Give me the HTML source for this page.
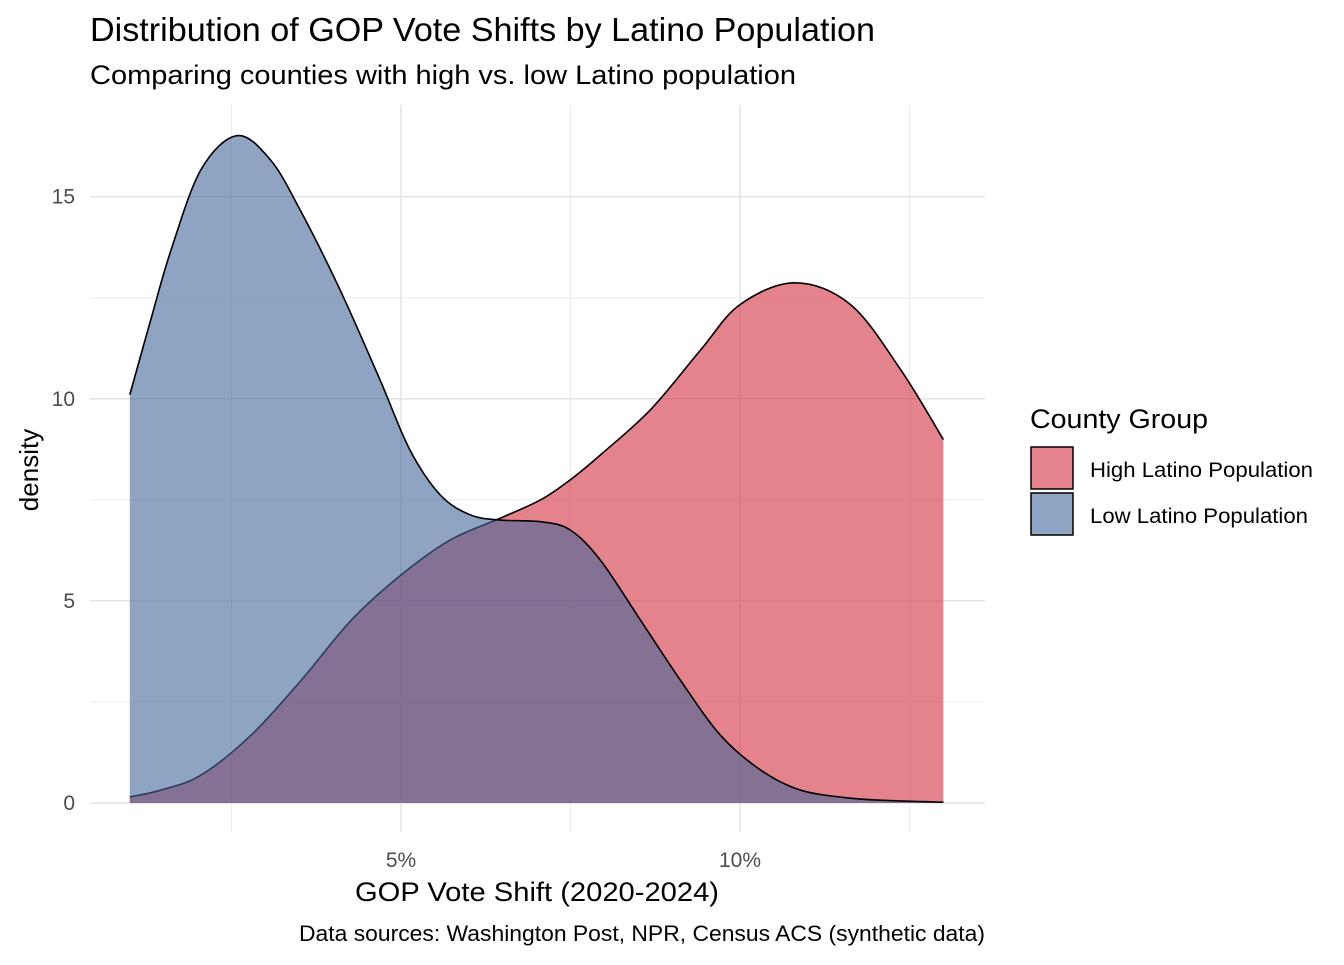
<!DOCTYPE html>
<html><head><meta charset="utf-8"><style>
body{margin:0;background:#fff;}
svg text{font-family:"Liberation Sans",Arial,sans-serif;}
</style></head><body>
<svg id="chart" width="1344" height="960" viewBox="0 0 1344 960">
<text x="90" y="41" font-size="33" textLength="785" lengthAdjust="spacingAndGlyphs" fill="#000">Distribution of GOP Vote Shifts by Latino Population</text>
<text x="90" y="84" font-size="27" textLength="706" lengthAdjust="spacingAndGlyphs" fill="#000">Comparing counties with high vs. low Latino population</text>
<g id="grid"></g>
<g id="areas"></g>
<g id="axes"></g>
<text x="355" y="901" font-size="27" textLength="364" lengthAdjust="spacingAndGlyphs" fill="#000">GOP Vote Shift (2020-2024)</text>
<text transform="translate(38,470) rotate(-90)" font-size="26" text-anchor="middle" fill="#000">density</text>
<text x="299" y="941" font-size="22" textLength="686" lengthAdjust="spacingAndGlyphs" fill="#000">Data sources: Washington Post, NPR, Census ACS (synthetic data)</text>
<g>
<text x="1030" y="428" font-size="27" textLength="178" lengthAdjust="spacingAndGlyphs" fill="#000">County Group</text>
<g>
<rect x="1031" y="447" width="42" height="42" fill="#e4838b" stroke="#000" stroke-width="1.5"/>
<text x="1090" y="477" font-size="21" textLength="223" lengthAdjust="spacingAndGlyphs" fill="#000">High Latino Population</text></g>
<g>
<rect x="1031" y="493" width="42" height="42" fill="#8fa3c3" stroke="#000" stroke-width="1.5"/>
<text x="1090" y="523" font-size="21" textLength="218" lengthAdjust="spacingAndGlyphs" fill="#000">Low Latino Population</text></g>
</g>
</svg>
<script>
const highX=[1.0,1.46,2.05,2.79,3.53,4.27,5.0,5.73,6.47,7.06,7.5,7.94,8.68,9.42,10.0,10.81,11.63,12.37,13.0];
const highY=[0.15,0.32,0.69,1.68,3.04,4.53,5.64,6.51,7.05,7.5,8.0,8.61,9.73,11.21,12.33,12.87,12.33,10.72,8.99];
const lowX=[1.0,1.31,1.61,2.05,2.58,3.07,3.51,4.1,4.69,5.13,5.58,6.02,6.46,7.05,7.49,7.94,8.53,9.12,9.71,10.3,10.89,11.63,12.37,13.0];
const lowY=[10.1,11.96,13.69,15.67,16.51,15.92,14.68,12.7,10.47,8.74,7.62,7.13,7.0,6.96,6.76,6.01,4.53,3.04,1.68,0.82,0.32,0.12,0.05,0.02];
const yTicks=[0,5,10,15];
const yTickLabels=["0","5","10","15"];
const xTicks=[5,10];
const xTickLabels=["5%","10%"];
const NS="http://www.w3.org/2000/svg";
const sx=v=>401+(v-5)*67.8;
const sy=v=>803-v*40.42;
function mk(tag,attrs,parent){const e=document.createElementNS(NS,tag);for(const k in attrs)e.setAttribute(k,attrs[k]);parent.appendChild(e);return e;}
const grid=document.getElementById('grid');
const L=90,R=985,T=105,B=832;
[2.5,7.5,12.5].forEach(v=>{const l=mk('line',{x1:sx(v),x2:sx(v),y1:T,y2:B,stroke:'#ebebeb','stroke-width':1},grid);

});
[2.5,7.5,12.5].forEach(v=>{const l=mk('line',{x1:L,x2:R,y1:sy(v),y2:sy(v),stroke:'#ebebeb','stroke-width':1},grid);

});
xTicks.forEach(v=>{const l=mk('line',{x1:sx(v),x2:sx(v),y1:T,y2:B,stroke:'#e3e3e3','stroke-width':1.5},grid);

});
yTicks.forEach(v=>{const l=mk('line',{x1:L,x2:R,y1:sy(v),y2:sy(v),stroke:'#e3e3e3','stroke-width':1.5},grid);

});
function smooth(xs,ys){const p=xs.map((x,i)=>[sx(x),sy(ys[i])]);let d=`M${p[0][0]},${p[0][1]}`;
for(let i=0;i<p.length-1;i++){const p0=p[Math.max(0,i-1)],p1=p[i],p2=p[i+1],p3=p[Math.min(p.length-1,i+2)];
const c1=[p1[0]+(p2[0]-p0[0])/6,p1[1]+(p2[1]-p0[1])/6],c2=[p2[0]-(p3[0]-p1[0])/6,p2[1]-(p3[1]-p1[1])/6];
d+=` C${c1[0]},${c1[1]} ${c2[0]},${c2[1]} ${p2[0]},${p2[1]}`;}return d;}
const areas=document.getElementById('areas');
function area(xs,ys,color,name){const line=smooth(xs,ys);
const a=mk('path',{d:line+` L${sx(xs[xs.length-1])},${sy(0)} L${sx(xs[0])},${sy(0)} Z`,fill:color,'fill-opacity':0.6,stroke:'none'},areas);


const o=mk('path',{d:line,fill:'none',stroke:'#000','stroke-width':1.6},areas);

}
area(highX,highY,'#d2313e','high-latino');
area(lowX,lowY,'#44669b','low-latino');
const axes=document.getElementById('axes');
yTicks.forEach((v,i)=>{const t=mk('text',{x:75,y:sy(v)+7,'font-size':21,'text-anchor':'end',fill:'#4d4d4d'},axes);t.textContent=yTickLabels[i];

});
xTicks.forEach((v,i)=>{const t=mk('text',{x:sx(v),y:867,'font-size':21,'text-anchor':'middle',fill:'#4d4d4d'},axes);t.textContent=xTickLabels[i];

});
</script>
</body></html>
